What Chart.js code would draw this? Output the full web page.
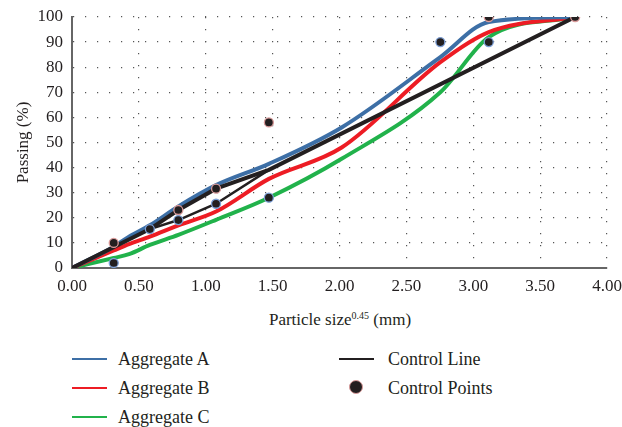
<!DOCTYPE html>
<html>
<head>
<meta charset="utf-8">
<script src="https://cdn.jsdelivr.net/npm/chart.js@4/dist/chart.umd.min.js"></script>
<style>
  body { margin: 0; background: #fff; font-family: 'Liberation Serif', 'DejaVu Serif', serif; color: #231f20; }
  #wrap { position: relative; width: 622px; height: 427px; overflow: hidden; }
  #chart { position: absolute; left: 0; top: 0; }
  .xtitle { position: absolute; left: 0; width: 680px; top: 310px; text-align: center; font-size: 17px; }
  .xtitle sup { font-size: 10px; vertical-align: 6px; }
  .leg { position: absolute; font-size: 18px; line-height: 20px; white-space: nowrap; }
  .leg .mk { position: absolute; height: 2px; top: 9px; }
  .leg .dot { position: absolute; width: 12px; height: 12px; border-radius: 50%; background: #231f20; border: 1.5px solid #d99a9a; top: 2px; }
</style>
</head>
<body>
<div id="wrap">
  <canvas id="chart" width="622" height="300"></canvas>
  <div class="xtitle">Particle size<sup>0.45</sup> (mm)</div>
  <div id="legend"></div>
</div>
<script>
// sieve size ^ 0.45
var sieveX = [0, 0.312, 0.426, 0.582, 0.795, 1.077, 1.472, 2.016, 2.754, 3.116, 3.762];
var aggA = [0, 8.5, 12.5, 17, 24.5, 33, 41.5, 56, 84, 98, 100];
var aggB = [0, 7, 9.5, 12.5, 17, 22.5, 35.5, 48, 82, 94, 100];
var aggC = [0, 4, 5.5, 9.2, 13.2, 19.2, 28, 43.5, 70, 92, 100];

// control line (max density line, through upper edge of restricted zone)
var ctrlX = [0, 0.582, 0.795, 1.077, 1.472, 3.762];
var ctrlY = [0, 15.5, 23.1, 31.6, 39.1, 100];
// lower edge of restricted zone
var zoneX = [0.582, 0.795, 1.077, 1.472];
var zoneY = [15.5, 19.1, 25.6, 39.1];

// control points (max = pink rim, min = blue rim)
var cpX = [0.312, 0.312, 0.582, 0.795, 0.795, 1.077, 1.077, 1.472, 1.472, 2.754, 3.116, 3.116, 3.762];
var cpY = [10, 2, 15.5, 23.1, 19.1, 31.6, 25.6, 28, 58, 90, 100, 90, 100];
var cpKind = ['max', 'min', 'min', 'max', 'min', 'max', 'min', 'min', 'max', 'min', 'max', 'min', 'max'];

var xTicks = [0, 0.5, 1, 1.5, 2, 2.5, 3, 3.5, 4];

var FONT = "'Liberation Serif', 'DejaVu Serif', serif";
var INK = '#231f20';
var COL_A = '#3d6fa6', COL_B = '#ed1c24', COL_C = '#21b24b';

function pts(xs, ys) {
    return xs.map(function (x, i) { return { x: x, y: ys[i] }; });
}

function curve(label, ys, color) {
    return {
        label: label,
        data: pts(sieveX, ys),
        borderColor: color,
        backgroundColor: color,
        borderWidth: 4,
        pointRadius: 0,
        cubicInterpolationMode: 'monotone',
        fill: false,
        order: 3
    };
}

var rimColors = cpKind.map(function (k) { return k === 'max' ? '#d99a9a' : '#7c9fd6'; });

new Chart(document.getElementById('chart'), {
    type: 'line',
    data: {
        datasets: [
            curve('Aggregate A', aggA, COL_A),
            curve('Aggregate B', aggB, COL_B),
            curve('Aggregate C', aggC, COL_C),
            {
                label: 'Control Line',
                data: pts(ctrlX, ctrlY),
                borderColor: INK,
                borderWidth: 4,
                pointRadius: 0,
                tension: 0,
                order: 2
            },
            {
                label: 'zone',
                data: pts(zoneX, zoneY),
                borderColor: INK,
                borderWidth: 2.5,
                pointRadius: 0,
                tension: 0,
                order: 2
            },
            {
                label: 'Control Points',
                data: pts(cpX, cpY),
                showLine: false,
                pointRadius: 4.5,
                pointBackgroundColor: INK,
                pointBorderColor: rimColors,
                pointBorderWidth: 1.3,
                order: 0
            }
        ]
    },
    options: {
        responsive: false,
        animation: false,
        devicePixelRatio: 1,
        layout: { padding: { top: 17, right: 15, left: 0, bottom: 0 } },
        plugins: { legend: { display: false }, tooltip: { enabled: false } },
        scales: {
            x: {
                type: 'linear',
                min: 0,
                max: 4,
                afterBuildTicks: function (s) { s.ticks = xTicks.map(function (v) { return { value: v }; }); },
                afterFit: function (s) { s.height = 32; s.paddingLeft = 0; s.paddingRight = 0; },
                ticks: {
                    color: INK,
                    font: { family: FONT, size: 17 },
                    padding: 8,
                    callback: function (v) { return v.toFixed(2); }
                },
                grid: { color: '#555', lineWidth: 1.2, drawTicks: false },
                border: { color: '#666', width: 2, dash: [1.2, 10.8] }
            },
            y: {
                min: 0,
                max: 100,
                afterFit: function (s) { s.width = 72; s.paddingTop = 0; s.paddingBottom = 0; },
                ticks: {
                    stepSize: 10,
                    color: INK,
                    font: { family: FONT, size: 17 },
                    padding: 9
                },
                title: {
                    display: true,
                    text: 'Passing (%)',
                    color: INK,
                    font: { family: FONT, size: 17 },
                    padding: { top: 13, bottom: 0 }
                },
                grid: { color: '#555', lineWidth: 1.2, drawTicks: false },
                border: { color: '#666', width: 2, dash: [1.2, 10.8] }
            }
        }
    }
});

// legend, two columns like the figure
var legendItems = [
    { text: 'Aggregate A', color: COL_A, left: 72, top: 349 },
    { text: 'Aggregate B', color: COL_B, left: 72, top: 378 },
    { text: 'Aggregate C', color: COL_C, left: 72, top: 407 },
    { text: 'Control Line', color: INK, left: 339, top: 349 },
    { text: 'Control Points', dot: true, left: 339, top: 378 }
];
var legendEl = document.getElementById('legend');
legendItems.forEach(function (it) {
    var d = document.createElement('div');
    d.className = 'leg';
    d.style.left = it.left + 'px';
    d.style.top = it.top + 'px';
    var mk = document.createElement('span');
    if (it.dot) {
        mk.className = 'dot';
        mk.style.left = '10px';
    } else {
        mk.className = 'mk';
        mk.style.left = '0px';
        mk.style.width = '35px';
        mk.style.background = it.color;
    }
    d.appendChild(mk);
    var t = document.createElement('span');
    t.textContent = it.text;
    t.style.marginLeft = (it.left === 72 ? 46 : 49) + 'px';
    d.appendChild(t);
    legendEl.appendChild(d);
});
</script>
</body>
</html>
